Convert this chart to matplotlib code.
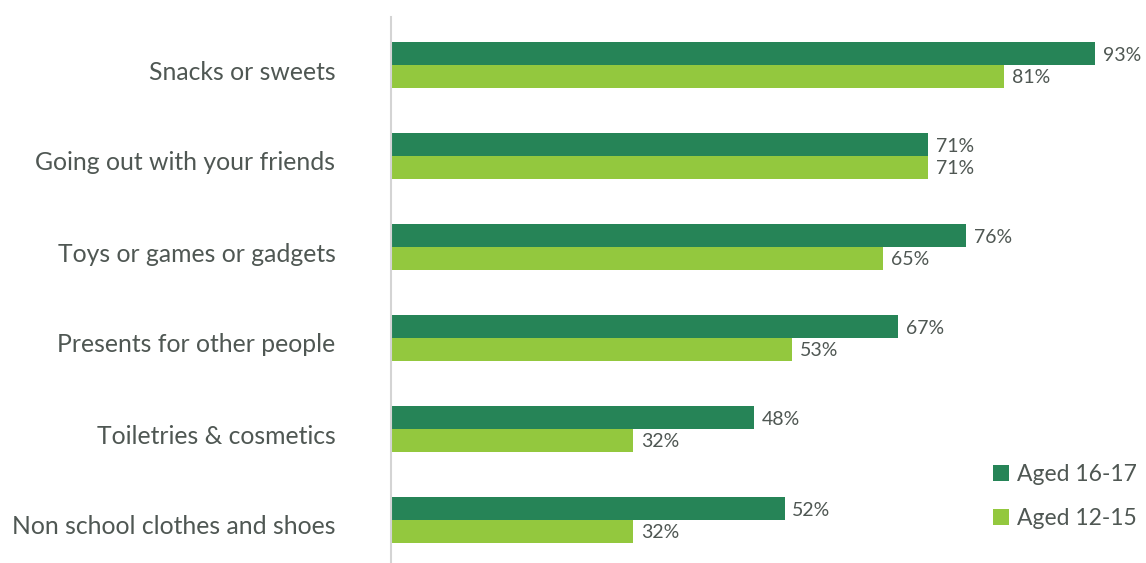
import matplotlib.pyplot as plt
import matplotlib.transforms as mtransforms
import numpy as np

plt.rcParams['font.family'] = ['Lato', 'DejaVu Sans']

categories = ['Snacks or sweets', 'Going out with your friends', 'Toys or games or gadgets',
              'Presents for other people', 'Toiletries & cosmetics', 'Non school clothes and shoes']
aged_16_17 = [93, 71, 76, 67, 48, 52]
aged_12_15 = [81, 71, 65, 53, 32, 32]

dark = '#268457'
light = '#93c83e'
txt = '#4f5753'

fig = plt.figure(figsize=(11.46, 5.63), dpi=100)
ax = fig.add_axes([391 / 1146, 0, 755 / 1146, 546 / 563])

y = np.arange(len(categories))
h = 0.253
ax.barh(y - h / 2, aged_16_17, height=h, color=dark, label='Aged 16-17')
ax.barh(y + h / 2, aged_12_15, height=h, color=light, label='Aged 12-15')

for yi, v in zip(y, aged_16_17):
    ax.text(v + 1.0, yi - h / 2 + 0.02, f'{v}%', va='center', ha='left', fontsize=14, color=txt)
for yi, v in zip(y, aged_12_15):
    ax.text(v + 1.0, yi + h / 2 + 0.01, f'{v}%', va='center', ha='left', fontsize=14, color=txt)

ax.set_xlim(0, 755 / 7.57)
ax.set_ylim(5.5 - 2.5 / 91, -0.5 - 2.5 / 91)
ax.set_yticks(y)
ax.set_yticklabels(categories, fontsize=17.8, color=txt)
ax.tick_params(axis='y', length=0, pad=40)
shift = mtransforms.ScaledTranslation(0, -5 / 100, fig.dpi_scale_trans)
for lab in ax.get_yticklabels():
    lab.set_transform(lab.get_transform() + shift)
ax.set_xticks([])
for s in ['top', 'right', 'bottom']:
    ax.spines[s].set_visible(False)
ax.spines['left'].set_color('#d4d4d4')
ax.spines['left'].set_linewidth(1.5)

leg = ax.legend(loc='lower right', bbox_to_anchor=(1.0, 0.045), frameon=False, fontsize=16.5,
                handlelength=0.7, handleheight=0.7, handletextpad=0.35, labelspacing=1.0,
                borderaxespad=0.0)
for t in leg.get_texts():
    t.set_color(txt)

fig.savefig('out.png', dpi=100)
